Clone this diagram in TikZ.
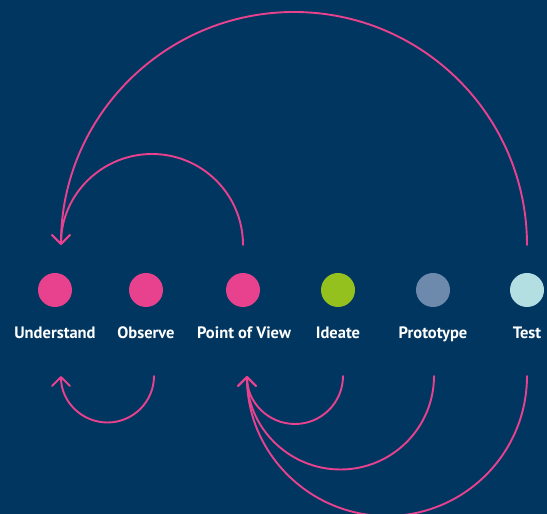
\documentclass[tikz,border=0pt]{standalone}
\usepackage{fontspec}
\setmainfont{PT Sans}
\usetikzlibrary{arrows.meta}
\definecolor{navy}{HTML}{013660}
\definecolor{pinky}{HTML}{E8428F}
\definecolor{limey}{HTML}{95C11F}
\definecolor{slate}{HTML}{6D8AAD}
\definecolor{icy}{HTML}{B3DFE3}

\begin{document}
\begin{tikzpicture}[x=1pt,y=1pt,
    dot node/.style={circle,inner sep=0pt,minimum size=34pt},
    step name/.style={text=white,anchor=base,font=\bfseries\fontsize{16.5}{19}\selectfont},
    loop arrow/.style={draw=pinky,line width=1.9pt,line cap=round,
      -{Straight Barb[length=9pt,width=18pt,line cap=round,line join=round]}}]
  \fill[navy] (0,0) rectangle (547,514);
  \useasboundingbox (0,0) rectangle (547,514);

  \node[dot node,fill=pinky] (u) at (55,224) {};
  \node[dot node,fill=pinky] (o) at (146,224) {};
  \node[dot node,fill=pinky] (p) at (243,224) {};
  \node[dot node,fill=limey] (i) at (338,224) {};
  \node[dot node,fill=slate] (r) at (433,224) {};
  \node[dot node,fill=icy] (t) at (527,224) {};

  \node[step name] (ul) at (55,175) {Understand};
  \node[step name] (ol) at (146,175) {Observe};
  \node[step name] (pl) at (244,175) {Point of View};
  \node[step name] (il) at (338,175) {Ideate};
  \node[step name] (rl) at (433,175) {Prototype};
  \node[step name] (tl) at (527,175) {Test};

  % ends of the loops, above and below the dots
  \coordinate (ua) at (61,269);
  \coordinate (pa) at (243,269);
  \coordinate (ta) at (527,269);
  \coordinate (ub) at (61,138);
  \coordinate (ob) at (154,138);
  \coordinate (pb) at (247,138);
  \coordinate (ib) at (343,138);
  \coordinate (rb) at (434,138);
  \coordinate (tb) at (527,138);

  \draw[loop arrow] (ta) arc[start angle=0,end angle=180,radius=233];
  \draw[loop arrow] (pa) arc[start angle=0,end angle=180,radius=91];
  \draw[loop arrow] (ob) arc[start angle=0,end angle=-180,radius=46.5];
  \draw[loop arrow] (ib) arc[start angle=0,end angle=-180,radius=48];
  \draw[loop arrow] (rb) arc[start angle=0,end angle=-180,radius=93.5];
  \draw[loop arrow] (tb) arc[start angle=0,end angle=-180,radius=140];
\end{tikzpicture}
\end{document}
